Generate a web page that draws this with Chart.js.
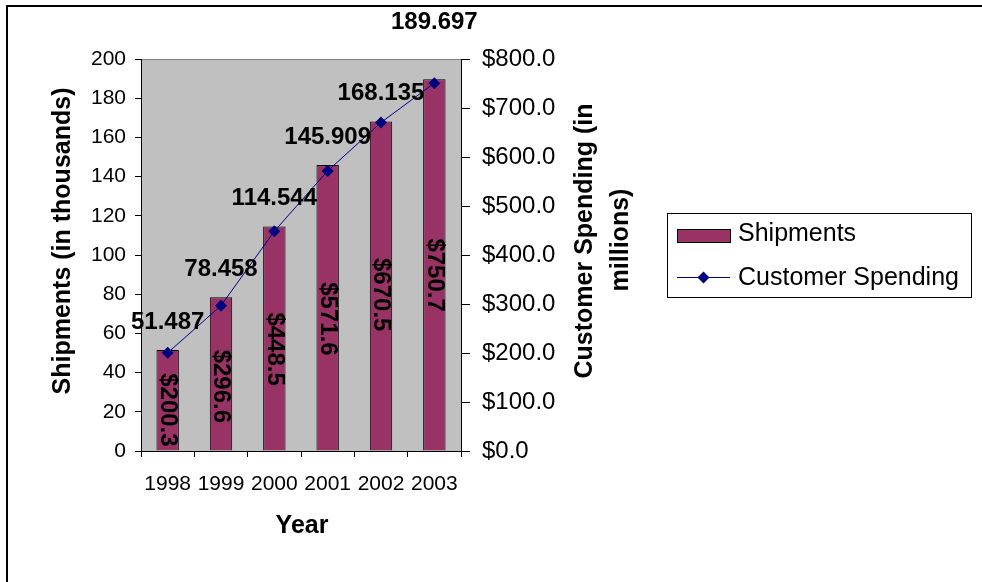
<!DOCTYPE html>
<html>
<head>
<meta charset="utf-8">
<script src="https://cdn.jsdelivr.net/npm/chart.js@4/dist/chart.umd.min.js"></script>
<style>
  html, body { margin: 0; padding: 0; background: #fff; }
</style>
</head>
<body>
<canvas id="shipChart" width="982" height="582"></canvas>
<script>
// data
const years = ["1998", "1999", "2000", "2001", "2002", "2003"];
const shipments = [51.487, 78.458, 114.544, 145.909, 168.135, 189.697];
const spending = [200.3, 296.6, 448.5, 571.6, 670.5, 750.7];
const shipmentTicks = [0, 20, 40, 60, 80, 100, 120, 140, 160, 180, 200];
const spendingTicks = [0, 100, 200, 300, 400, 500, 600, 700, 800];

const FONT = "'Liberation Sans', Arial, sans-serif";
const BAR_COLOR = "#993366";
const LINE_COLOR = "#000080";

function diamond(ctx, x, y, r) {
  ctx.beginPath();
  ctx.moveTo(x, y - r);
  ctx.lineTo(x + r, y);
  ctx.lineTo(x, y + r);
  ctx.lineTo(x - r, y);
  ctx.closePath();
  ctx.fill();
}

// plot background, labels, titles and legend are drawn by hand to match the Excel look
const chartDecor = {
  id: "chartDecor",
  beforeDraw(chart) {
    const { ctx, chartArea: a } = chart;
    ctx.save();
    ctx.fillStyle = "#fff";
    ctx.fillRect(0, 0, chart.width, chart.height);
    ctx.fillStyle = "#c0c0c0";
    ctx.fillRect(a.left, a.top, a.right - a.left, a.bottom - a.top);
    ctx.strokeStyle = "#808080";
    ctx.lineWidth = 1;
    ctx.beginPath();
    ctx.moveTo(a.left, a.top + 0.5);
    ctx.lineTo(a.right, a.top + 0.5);
    ctx.stroke();
    // outer frame, only top and left edges are in view
    ctx.strokeStyle = "#000";
    ctx.lineWidth = 2;
    ctx.beginPath();
    ctx.moveTo(7, chart.height);
    ctx.lineTo(7, 6);
    ctx.lineTo(chart.width, 6);
    ctx.stroke();
    ctx.restore();
  },
  afterDatasetsDraw(chart) {
    const { ctx, chartArea: a } = chart;
    ctx.save();
    ctx.fillStyle = "#000";
    ctx.font = "bold 24px " + FONT;
    ctx.textAlign = "center";
    ctx.textBaseline = "middle";

    // shipment values above the bars
    chart.getDatasetMeta(0).data.forEach((bar, i) => {
      let y = bar.y - 28;
      if (y < a.top + 12) y = a.top - 37; // push clear of the plot's top edge
      ctx.fillText(String(shipments[i]), bar.x, y);
    });

    // spending values, rotated, below the line points
    chart.getDatasetMeta(1).data.forEach((pt, i) => {
      const y = (pt.y + a.bottom) / 2 + 8;
      ctx.save();
      ctx.translate(pt.x, y);
      ctx.rotate(Math.PI / 2);
      ctx.fillText("$" + spending[i].toFixed(1), 0, 0);
      ctx.restore();
    });
    ctx.restore();
  },
  afterDraw(chart) {
    const { ctx, chartArea: a } = chart;
    ctx.save();
    ctx.fillStyle = "#000";
    ctx.textAlign = "center";
    ctx.textBaseline = "middle";
    ctx.font = "bold 25px " + FONT;

    // axis titles
    ctx.fillText("Year", (a.left + a.right) / 2 + 1, 526);
    ctx.save();
    ctx.translate(63, 241);
    ctx.rotate(-Math.PI / 2);
    ctx.fillText("Shipments (in thousands)", 0, 0);
    ctx.restore();
    ctx.save();
    ctx.translate(585, 241);
    ctx.rotate(-Math.PI / 2);
    ctx.fillText("Customer Spending (in", 0, 0);
    ctx.restore();
    ctx.save();
    ctx.translate(621, 240);
    ctx.rotate(-Math.PI / 2);
    ctx.fillText("millions)", 0, 0);
    ctx.restore();

    // legend
    const ds = chart.data.datasets;
    ctx.strokeStyle = "#000";
    ctx.lineWidth = 1;
    ctx.strokeRect(667.5, 213.5, 304, 84);
    ctx.fillStyle = BAR_COLOR;
    ctx.fillRect(677, 229, 53, 13);
    ctx.strokeRect(677.5, 229.5, 53, 13);
    ctx.strokeStyle = LINE_COLOR;
    ctx.beginPath();
    ctx.moveTo(677, 277.5);
    ctx.lineTo(730, 277.5);
    ctx.stroke();
    ctx.fillStyle = LINE_COLOR;
    diamond(ctx, 703.5, 277.5, 6);

    ctx.fillStyle = "#000";
    ctx.font = "25px " + FONT;
    ctx.textAlign = "left";
    ctx.fillText(ds[0].label, 738, 234);
    ctx.fillText(ds[1].label, 738, 278);
    ctx.restore();
  }
};

new Chart(document.getElementById("shipChart"), {
  type: "bar",
  data: {
    labels: years,
    datasets: [
      {
        type: "bar",
        label: "Shipments",
        data: shipments,
        yAxisID: "y",
        backgroundColor: BAR_COLOR,
        borderColor: "#000",
        borderWidth: 1,
        categoryPercentage: 1,
        barPercentage: 0.42,
        order: 2,
      },
      {
        type: "line",
        label: "Customer Spending",
        data: spending,
        yAxisID: "y2",
        borderColor: LINE_COLOR,
        backgroundColor: LINE_COLOR,
        borderWidth: 1,
        pointStyle: "rectRot",
        pointRadius: 6,
        pointBackgroundColor: LINE_COLOR,
        pointBorderColor: LINE_COLOR,
        pointBorderWidth: 0,
        tension: 0,
        order: 1,
      },
    ],
  },
  options: {
    responsive: false,
    animation: false,
    devicePixelRatio: 1,
    layout: { padding: { top: 59, left: 0, right: 0, bottom: 0 } },
    plugins: { legend: { display: false }, tooltip: { enabled: false } },
    scales: {
      x: {
        grid: { display: true, drawOnChartArea: false, drawTicks: true, tickLength: 6, color: "#000", offset: true },
        border: { display: true, color: "#000" },
        ticks: { font: { family: FONT, size: 21 }, color: "#000", padding: 15, maxRotation: 0, autoSkip: false },
        afterFit(s) { s.height = 131; },
      },
      y: {
        position: "left",
        min: 0,
        max: 200,
        afterBuildTicks(s) { s.ticks = shipmentTicks.map(v => ({ value: v })); },
        grid: { drawOnChartArea: false, tickLength: 6, color: "#000" },
        border: { display: true, color: "#000" },
        ticks: { font: { family: FONT, size: 21 }, color: "#000", padding: 9 },
        afterFit(s) { s.width = 141; },
      },
      y2: {
        position: "right",
        min: 0,
        max: 800,
        afterBuildTicks(s) { s.ticks = spendingTicks.map(v => ({ value: v })); },
        grid: { drawOnChartArea: false, tickLength: 9, color: "#000" },
        border: { display: true, color: "#000" },
        ticks: {
          font: { family: FONT, size: 24 },
          color: "#000",
          padding: 12,
          callback: v => "$" + Number(v).toFixed(1),
        },
        afterFit(s) { s.width = 521; },
      },
    },
  },
  plugins: [chartDecor],
});
</script>
</body>
</html>
